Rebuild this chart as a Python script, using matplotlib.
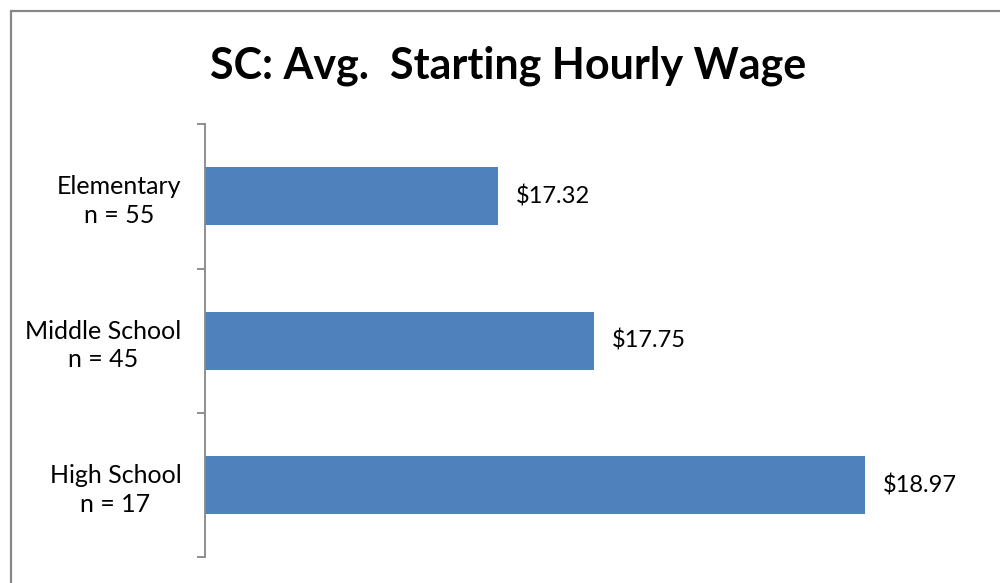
import matplotlib
matplotlib.use("Agg")
import matplotlib.pyplot as plt
from matplotlib.patches import Rectangle

categories = ["Elementary\nn = 55", "Middle School\nn = 45", "High School\nn = 17"]
wages = [17.32, 17.75, 18.97]
wage_labels = ["$17.32", "$17.75", "$18.97"]

plt.rcParams["font.family"] = ["Lato", "DejaVu Sans"]

fig = plt.figure(figsize=(10, 5.83), dpi=100)
fig.patch.set_facecolor("#ffffff")

# outer chart frame (runs off the right and bottom edge)
fig.add_artist(Rectangle((0.0105, -0.05), 1.1, 1.031, transform=fig.transFigure,
                         fill=False, edgecolor="#878787", linewidth=1.6))

ax = fig.add_axes([0.205, 0.044, 0.778, 0.743])

pos = list(range(len(categories)))
ax.barh(pos, wages, height=0.4, left=0, color="#4F81BD")
ax.set_xlim(16, 19.5)
ax.set_ylim(2.5, -0.5)

for y, w, lab in zip(pos, wages, wage_labels):
    ax.annotate(lab, xy=(w, y), xytext=(12.5, 0), textcoords="offset points",
                ha="left", va="center", fontsize=17, color="#000000")

ax.set_yticks([-0.5, 0.5, 1.5, 2.5])
ax.set_yticklabels([])
ax.set_yticks(pos, minor=True)
ax.set_yticklabels(categories, minor=True, fontsize=18, ha="right",
                   multialignment="center", linespacing=1.3)
ax.tick_params(axis="y", which="major", length=6, width=1.3, color="#878787",
               direction="out")
ax.tick_params(axis="y", which="minor", length=0, pad=17)

ax.set_xticks([])
for side in ["top", "right", "bottom"]:
    ax.spines[side].set_visible(False)
ax.spines["left"].set_color("#878787")
ax.spines["left"].set_linewidth(1.3)

fig.text(0.508, 0.888, "SC: Avg.  Starting Hourly Wage", ha="center", va="center",
         fontsize=31, fontweight="bold", color="#000000")

plt.savefig("out.png", dpi=100)
plt.close()
